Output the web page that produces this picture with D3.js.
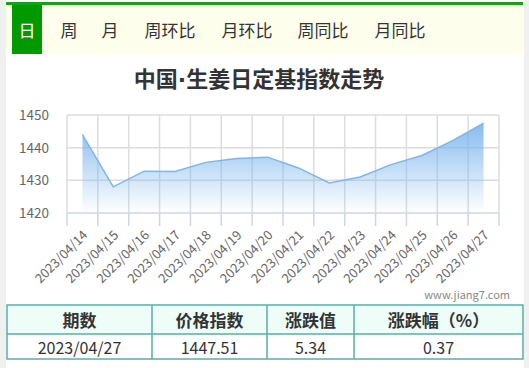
<!DOCTYPE html>
<html>
<head>
<meta charset="utf-8">
<script src="https://cdn.jsdelivr.net/npm/d3@7"></script>
<style>
  html, body { margin: 0; padding: 0; background: #f0f0f0; }
  svg { display: block; font-family: "Microsoft YaHei", "Noto Sans CJK SC", sans-serif; }
</style>
</head>
<body>
<div id="chart"></div>
<script>
const tabs = ["日", "周", "月", "周环比", "月环比", "周同比", "月同比"];
const tabX = [27, 69, 110, 170, 247, 323, 400];
const titleParts = ["中国", "·", "生姜日定基指数走势"];
const dates = ["2023/04/14", "2023/04/15", "2023/04/16", "2023/04/17", "2023/04/18", "2023/04/19", "2023/04/20",
               "2023/04/21", "2023/04/22", "2023/04/23", "2023/04/24", "2023/04/25", "2023/04/26", "2023/04/27"];
const values = [1444.0, 1428.0, 1432.8, 1432.7, 1435.5, 1436.7, 1437.1,
                1433.8, 1429.2, 1431.0, 1434.8, 1437.6, 1442.17, 1447.51];
const yTicks = [1420, 1430, 1440, 1450];
const tableHead = ["期数", "价格指数", "涨跌值", "涨跌幅（%）"];
const tableRow = ["2023/04/27", "1447.51", "5.34", "0.37"];
const colEdges = [7, 152, 267, 354, 523];

const width = 529, height = 368;
const marginLeft = 67, marginRight = 499, marginTop = 115, marginBottom = 213;

const svg = d3.select("#chart").append("svg")
  .attr("width", width)
  .attr("height", height);

// white panel
svg.append("rect").attr("x", 6).attr("y", 0).attr("width", 518).attr("height", height).attr("fill", "#fff");

// tab bar
svg.append("rect").attr("x", 6).attr("y", 2).attr("width", 517).attr("height", 3).attr("fill", "#16a016");
svg.append("rect").attr("x", 6).attr("y", 5).attr("width", 517).attr("height", 49).attr("fill", "#fefeec");
svg.append("rect").attr("x", 12).attr("y", 5).attr("width", 30).attr("height", 49).attr("fill", "#009900");
svg.append("g").selectAll("text")
  .data(tabs)
  .enter().append("text")
    .attr("x", (d, i) => tabX[i])
    .attr("y", 37)
    .attr("text-anchor", "middle")
    .attr("font-size", 17)
    .attr("fill", (d, i) => i == 0 ? "#fff" : "#333")
    .text(d => d);

// title (narrow middle dot)
const t = svg.append("text")
  .attr("x", 259).attr("y", 87)
  .attr("text-anchor", "middle")
  .attr("font-size", 22)
  .attr("font-weight", "bold")
  .attr("fill", "#333");
t.selectAll("tspan")
  .data(titleParts)
  .enter().append("tspan")
    .attr("font-family", (d, i) => i == 1 ? "DejaVu Sans" : null)
    .text(d => d);

const x = d3.scaleBand().domain(dates).range([marginLeft, marginRight]);
const y = d3.scaleLinear().domain([1420, 1450]).range([marginBottom, marginTop]);

const defs = svg.append("defs");
const grad = defs.append("linearGradient")
  .attr("id", "fillGrad")
  .attr("gradientUnits", "userSpaceOnUse")
  .attr("x1", 0).attr("x2", 0)
  .attr("y1", marginTop).attr("y2", marginBottom);
grad.append("stop").attr("offset", 0).attr("stop-color", "#7cb5ec").attr("stop-opacity", 1);
grad.append("stop").attr("offset", 1).attr("stop-color", "#7cb5ec").attr("stop-opacity", 0);

// horizontal grid + y labels
svg.append("g")
  .selectAll("line")
  .data(yTicks)
  .enter().append("line")
    .attr("x1", marginLeft).attr("x2", marginRight)
    .attr("y1", d => y(d)).attr("y2", d => y(d))
    .attr("stroke", d => d == 1420 ? "#ccd6eb" : "#dcdcdc")
    .attr("stroke-width", 1.5);

svg.append("g")
  .selectAll("text")
  .data(yTicks)
  .enter().append("text")
    .attr("x", 49)
    .attr("y", d => y(d) + 5)
    .attr("text-anchor", "end")
    .attr("font-size", 13.5)
    .attr("fill", "#666")
    .text(d => d);

// vertical grid at band edges, continuing below as ticks
const edges = dates.map(d => x(d)).concat([marginRight]);
svg.append("g")
  .selectAll("line")
  .data(edges)
  .enter().append("line")
    .attr("x1", d => d).attr("x2", d => d)
    .attr("y1", marginTop).attr("y2", marginBottom)
    .attr("stroke", "#dcdcdc")
    .attr("stroke-width", 1.5);
svg.append("g")
  .selectAll("line")
  .data(edges)
  .enter().append("line")
    .attr("x1", d => d).attr("x2", d => d)
    .attr("y1", marginBottom).attr("y2", 226)
    .attr("stroke", "#ccd6eb")
    .attr("stroke-width", 1.5);

// area + line
const cx = d => x(d) + x.bandwidth() / 2;
const area = d3.area()
  .x((d, i) => cx(dates[i]))
  .y0(marginBottom)
  .y1(d => y(d));
const line = d3.line()
  .x((d, i) => cx(dates[i]))
  .y(d => y(d));

svg.append("path").datum(values).attr("d", area).attr("fill", "url(#fillGrad)");
svg.append("path").datum(values).attr("d", line)
  .attr("fill", "none")
  .attr("stroke", "#7cb5ec")
  .attr("stroke-width", 1.5);

// x labels rotated
svg.append("g")
  .selectAll("text")
  .data(dates)
  .enter().append("text")
    .attr("transform", d => "translate(" + (cx(d) + 6) + ",236) rotate(-45)")
    .attr("text-anchor", "end")
    .attr("font-size", 13)
    .attr("fill", "#666")
    .text(d => d);

// watermark
svg.append("text")
  .attr("x", 510).attr("y", 299)
  .attr("text-anchor", "end")
  .attr("font-size", 11)
  .attr("fill", "#888")
  .text("www.jiang7.com");

// table
const tbl = svg.append("g");
tbl.append("rect").attr("x", colEdges[0]).attr("y", 305).attr("width", colEdges[4] - colEdges[0]).attr("height", 29)
  .attr("fill", "#effdf8");
tbl.append("rect").attr("x", colEdges[0]).attr("y", 305).attr("width", colEdges[4] - colEdges[0]).attr("height", 54)
  .attr("fill", "none").attr("stroke", "#5aaea6").attr("stroke-width", 1.5);
tbl.append("line").attr("x1", colEdges[0]).attr("x2", colEdges[4]).attr("y1", 334).attr("y2", 334)
  .attr("stroke", "#5aaea6").attr("stroke-width", 1.5);
tbl.selectAll(".div")
  .data(colEdges.slice(1, 4))
  .enter().append("line")
    .attr("x1", d => d).attr("x2", d => d)
    .attr("y1", 305).attr("y2", 359)
    .attr("stroke", "#5aaea6").attr("stroke-width", 1.5);
tbl.selectAll(".head")
  .data(tableHead)
  .enter().append("text")
    .attr("x", (d, i) => (colEdges[i] + colEdges[i + 1]) / 2)
    .attr("y", 327)
    .attr("text-anchor", "middle")
    .attr("font-size", 17)
    .attr("font-weight", "bold")
    .attr("fill", "#333")
    .text(d => d);
tbl.selectAll(".cell")
  .data(tableRow)
  .enter().append("text")
    .attr("x", (d, i) => (colEdges[i] + colEdges[i + 1]) / 2)
    .attr("y", 354)
    .attr("text-anchor", "middle")
    .attr("font-size", 16)
    .attr("fill", "#333")
    .text(d => d);
</script>
</body>
</html>
